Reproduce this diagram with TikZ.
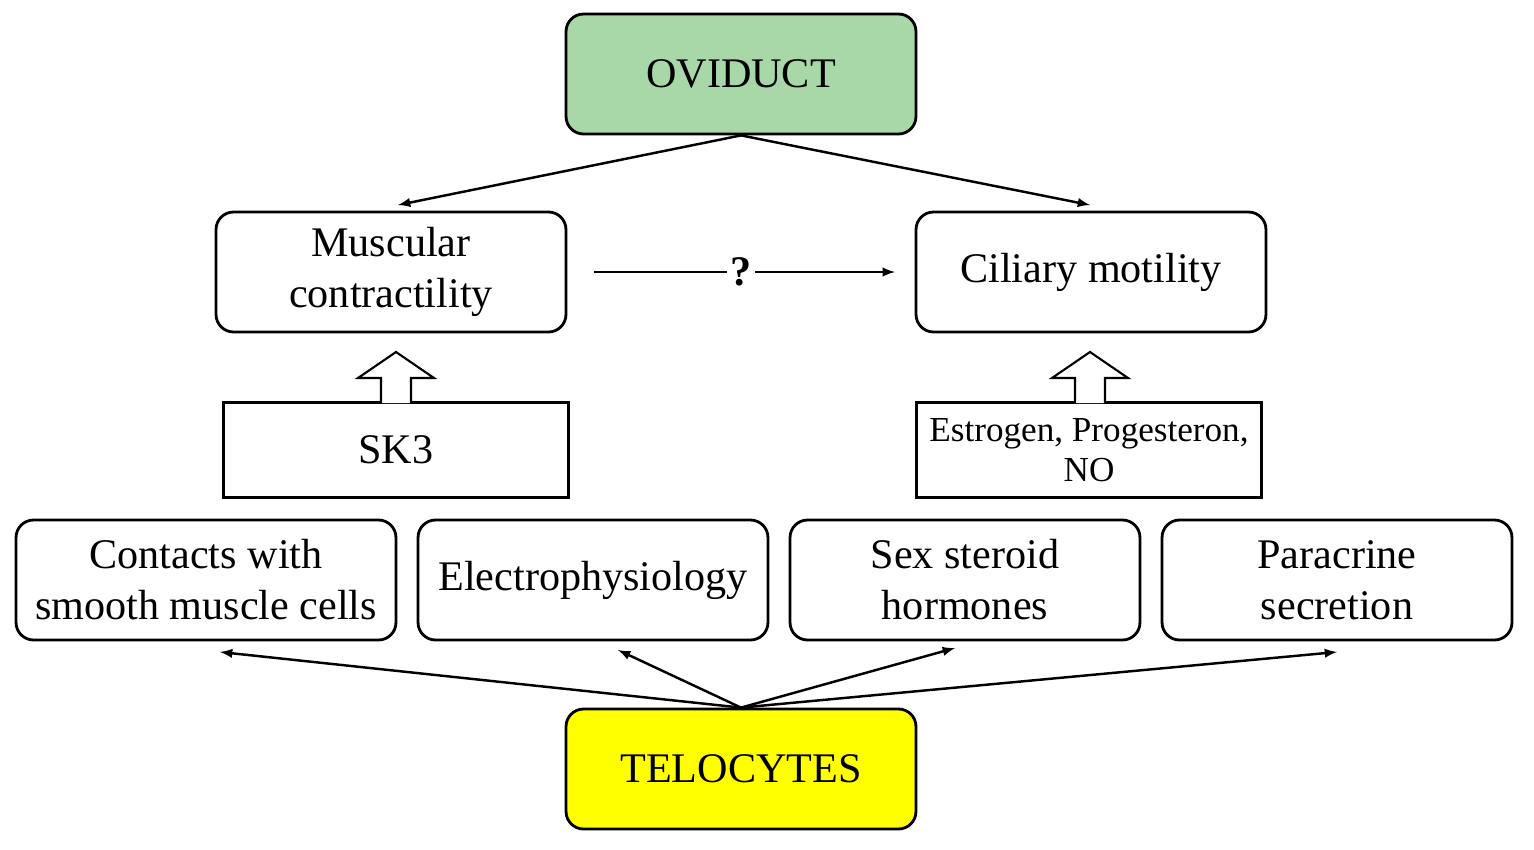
\documentclass[tikz,border=0pt]{standalone}
\usepackage{fontspec}
\setmainfont{Liberation Serif}
\usepackage{tikz}
\tikzset{every node/.style={align=center,font=\fontsize{24}{29}\selectfont}}
\tikzset{box/.style={rectangle,draw,rounded corners=0.35cm,line width=1.6pt,minimum width=7cm,minimum height=2.4cm}}
\tikzset{sq/.style={rectangle,draw,line width=1.2pt,minimum width=6.9cm,minimum height=1.9cm}}
\tikzset{arr/.style={->,>=latex,line width=1.4pt}}
\tikzset{blk/.style={draw,line width=1.2pt,fill=white}}
\definecolor{ovi}{RGB}{168,216,168}
\definecolor{tel}{RGB}{255,255,0}
\begin{document}
\begin{tikzpicture}[x=0.02cm,y=-0.02cm]
\useasboundingbox (0,0) rectangle (1534,849);
\node[box,fill=ovi] (ovi) at (741,74) {OVIDUCT};
\node[box] (mus) at (391,272) {Muscular\\contractility};
\node[box] (cil) at (1091,272) {Ciliary motility};
\node[sq] (sk) at (396,450) {SK3};
\node[sq,font=\fontsize{20}{23}\selectfont] (est) at (1089,450) {Estrogen, Progesteron,\\NO};
\node[box,minimum width=7.6cm] (con) at (206,580) {Contacts with\\smooth muscle cells};
\node[box] (ele) at (593,580) {Electrophysiology};
\node[box] (sex) at (965,580) {Sex steroid\\hormones};
\node[box] (par) at (1337,580) {Paracrine\\secretion};
\node[box,fill=tel] (tel) at (741,769) {TELOCYTES};
\node[inner sep=2pt] (q) at (741,272) {\textbf{?}};
\coordinate (ml) at (398,205);
\coordinate (cl) at (1090,205);
\coordinate (qs) at (594,272);
\coordinate (qe) at (895,272);
% arrows from the oviduct
\draw[arr] (ovi.south) -- (ml);
\draw[arr] (ovi.south) -- (cl);
\draw[line width=1.4pt] (qs) -- (q.west);
\draw[arr] (q.east) -- (qe);
% block arrows
\draw[blk] (381,403) -- (381,378) -- (358,378) -- (396,352) -- (434,378) -- (411,378) -- (411,403);
\draw[blk] (1075,403) -- (1075,378) -- (1052,378) -- (1090,352) -- (1128,378) -- (1105,378) -- (1105,403);
% arrows from the telocytes
\coordinate (c1) at (220,652);
\coordinate (c2) at (618,650);
\coordinate (c3) at (955,648);
\coordinate (c4) at (1337,652);
\foreach \c in {c1,c2,c3,c4}
  \draw[arr] (tel.north) -- (\c);
\end{tikzpicture}
\end{document}
